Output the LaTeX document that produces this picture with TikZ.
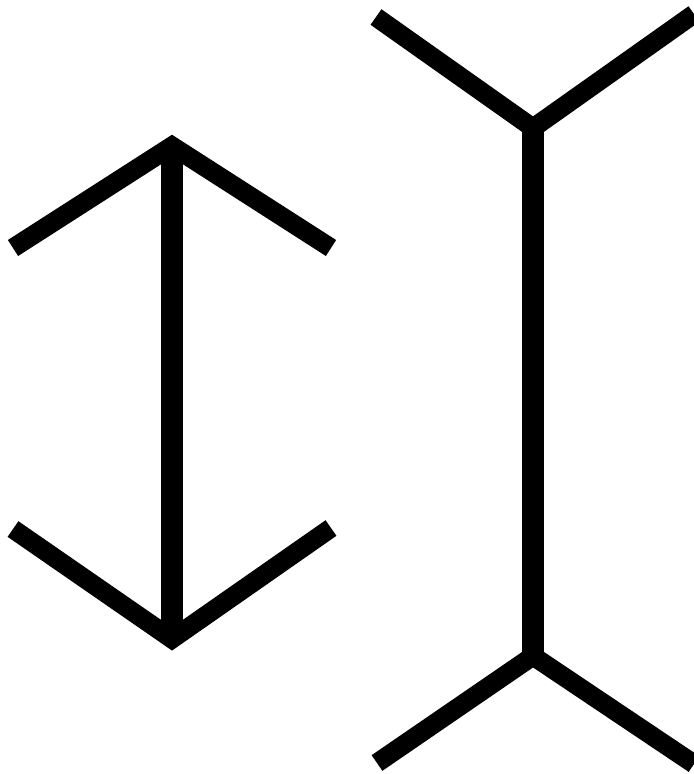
\documentclass[tikz,border=0pt]{standalone}
\usepackage{tkz-euclide}

\tikzset{
  shaft/.style={line width=22*0.03cm,line cap=butt,draw=black},
  fin/.style={line width=19*0.03cm,line cap=butt,line join=miter,draw=black}
}

\begin{document}
\begin{tikzpicture}[x=0.03cm,y=-0.03cm]
\useasboundingbox (0,0) rectangle (694,774);

% arrows pointing out
\tkzDefPoints{172/146/A,13/248/AL,331/248/AR,172/639/B,13/529/BL,331/528/BR}
% arrows pointing in
\tkzDefPoints{533/128/C,376/17/CL,694/14/CR,533/656/D,377/763/DL,694/764/DR}

\draw[shaft] (A) -- (B);
\draw[fin] (AL) -- (A) -- (AR);
\draw[fin] (BL) -- (B) -- (BR);

\draw[shaft] (C) -- (D);
\draw[fin] (CL) -- (C) -- (CR);
\draw[fin] (DL) -- (D) -- (DR);

\end{tikzpicture}
\end{document}
